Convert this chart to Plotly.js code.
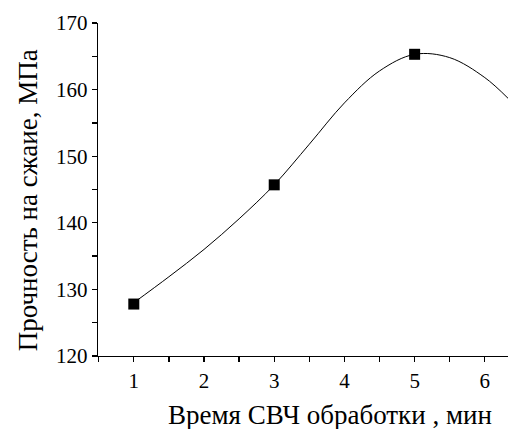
<!DOCTYPE html>
<html>
<head>
<meta charset="utf-8">
<script src="https://cdn.plot.ly/plotly-3.0.1.min.js"></script>
<style>
html,body{margin:0;padding:0;background:#fff;}
#chart{width:508px;height:429px;}
#chart svg text{font-family:"Liberation Serif","Times New Roman",Tinos,"DejaVu Serif",serif !important;}
</style>
</head>
<body>
<div id="chart"></div>
<script>
// Measured points
const timeMin = [1, 3, 5];
const strengthMPa = [127.8, 145.7, 165.3];
// Fitted curve
const curveX = [1, 1.5, 2, 2.5, 3, 3.5, 4, 4.5, 5, 5.5, 6, 6.33];
const curveY = [128, 131.9, 136.0, 140.6, 145.7, 151.8, 158.0, 162.8, 165.3, 164.8, 161.8, 158.7];
// Tick positions (major labelled, minor blank)
const xTickVals = [0.5, 1, 1.5, 2, 2.5, 3, 3.5, 4, 4.5, 5, 5.5, 6];
const xTickText = ['', '1', '', '2', '', '3', '', '4', '', '5', '', '6'];
const yTickVals = [120, 125, 130, 135, 140, 145, 150, 155, 160, 165, 170];
const yTickText = ['120', '', '130', '', '140', '', '150', '', '160', '', '170'];
const xTitle = 'Время СВЧ обработки , мин';
const yTitle = 'Прочность на сжаие, МПа';

const FAMILY = '"Liberation Serif", "Times New Roman", Tinos, "DejaVu Serif", serif';

const traces = [
  {x: curveX, y: curveY, mode: 'lines', line: {color: '#000', width: 1, shape: 'spline', smoothing: 1}, hoverinfo: 'skip', showlegend: false},
  {x: timeMin, y: strengthMPa, mode: 'markers', marker: {symbol: 'square', size: 11, color: '#000'}, showlegend: false}
];

function axis(range, vals, text) {
  return {
    range: range, tickmode: 'array', tickvals: vals, ticktext: text,
    showgrid: false, zeroline: false, showline: true, linecolor: '#000', linewidth: 1.3,
    ticks: 'outside', ticklen: 5, tickwidth: 1.3, tickcolor: '#000',
    tickfont: {family: FAMILY, size: 21, color: '#000'}
  };
}

const layout = {
  width: 508, height: 429,
  margin: {l: 97.5, r: 0, t: 22.7, b: 73.3},
  paper_bgcolor: '#fff', plot_bgcolor: '#fff',
  font: {family: FAMILY, color: '#000'},
  xaxis: axis([0.49, 6.33], xTickVals, xTickText),
  yaxis: axis([120, 170], yTickVals, yTickText),
  annotations: [
    {text: xTitle, xref: 'paper', yref: 'paper', x: (330 - 97.5) / (508 - 97.5), y: 0, xanchor: 'center', yanchor: 'top', yshift: -42, showarrow: false, font: {family: FAMILY, size: 27, color: '#000'}},
    {text: yTitle, xref: 'paper', yref: 'paper', x: 0, y: (355.7 - 200) / (355.7 - 22.7), xanchor: 'center', yanchor: 'middle', xshift: -70, textangle: -90, showarrow: false, font: {family: FAMILY, size: 27, color: '#000'}}
  ]
};

Plotly.newPlot('chart', traces, layout, {displayModeBar: false, staticPlot: true});
</script>
</body>
</html>
